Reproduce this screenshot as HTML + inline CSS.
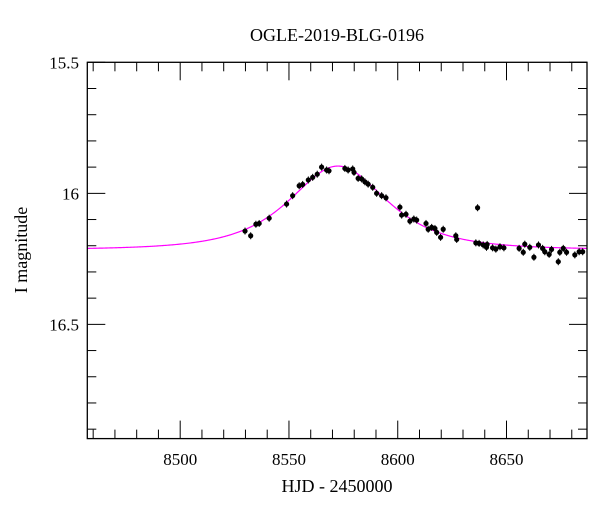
<!DOCTYPE html>
<html><head><meta charset="utf-8"><style>
body{margin:0;background:#fff;}
svg{display:block;font-family:"Liberation Serif",serif;}
</style></head><body>
<svg id="chart" width="600" height="512" viewBox="0 0 600 512">
<text x="337" y="41" font-size="18" text-anchor="middle">OGLE-2019-BLG-0196</text>
<text x="337" y="492" font-size="18" text-anchor="middle">HJD - 2450000</text>
<text x="27" y="250" font-size="18" text-anchor="middle" transform="rotate(-90 27 250)">I magnitude</text>
<g id="ticks"></g>
<g id="model"></g>
<g id="pts"></g>
<rect x="87.3" y="62.3" width="499.7" height="376.3" fill="none" stroke="#000" stroke-width="1.3"/>
</svg>
<script>
const hjd=[8529.8,8532.4,8534.8,8536.3,8540.9,8548.9,8551.7,8554.7,8556.3,8558.9,8560.9,8563.0,8565.0,8567.3,8568.4,8575.7,8577.2,8579.3,8579.9,8581.8,8583.4,8584.9,8586.4,8588.5,8590.3,8592.6,8594.6,8601.0,8601.8,8603.8,8605.6,8607.4,8608.7,8613.0,8614.0,8615.6,8617.1,8617.9,8619.7,8620.9,8626.7,8627.1,8636.7,8635.9,8637.4,8639.3,8641.1,8640.8,8643.6,8645.1,8647.0,8648.8,8655.8,8657.7,8658.4,8660.7,8662.6,8664.7,8666.6,8667.6,8669.6,8670.7,8673.8,8674.5,8676.1,8677.6,8681.4,8683.4,8685.0];
const imag=[16.144,16.162,16.118,16.115,16.095,16.041,16.009,15.971,15.966,15.949,15.939,15.927,15.900,15.911,15.914,15.905,15.911,15.907,15.920,15.943,15.945,15.956,15.965,15.977,16.000,16.009,16.017,16.053,16.083,16.080,16.106,16.098,16.102,16.115,16.137,16.130,16.134,16.149,16.168,16.137,16.162,16.176,16.055,16.189,16.191,16.197,16.195,16.206,16.208,16.213,16.204,16.208,16.210,16.225,16.194,16.206,16.244,16.197,16.210,16.223,16.233,16.214,16.261,16.225,16.210,16.225,16.235,16.223,16.223];
const modelParams=[8572.5,27,1.0,16.215]; // t0, tE, u0, baseline
const xTickLabels=[8500,8550,8600,8650];
const yTickLabels=["15.5","16","16.5"];
const X0=87.3,X1=587,Y0=62.3,Y1=438.6;
const T0=8457.3,T1=8687.0,M0=15.5,M1=16.936;
const sx=t=>X0+(t-T0)/(T1-T0)*(X1-X0);
const sy=m=>Y0+(m-M0)/(M1-M0)*(Y1-Y0);
const NS="http://www.w3.org/2000/svg";
function mk(tag,attrs,parent){const e=document.createElementNS(NS,tag);for(const k in attrs)e.setAttribute(k,attrs[k]);parent.appendChild(e);return e;}
const tk=document.getElementById('ticks');
for(let t=8460;t<=T1;t+=10){
  const major=t%50===0, L=major?18:9, x=sx(t);
  const a=mk('line',{x1:x,x2:x,y1:Y1,y2:Y1-L,stroke:'#000','stroke-width':1},tk);
  
  
  const b=mk('line',{x1:x,x2:x,y1:Y0,y2:Y0+L,stroke:'#000','stroke-width':1},tk);
  
  
}
xTickLabels.forEach(v=>{
  const e=mk('text',{x:sx(v),y:465,'font-size':17,'text-anchor':'middle'},tk);
  e.textContent=v;
  
  
});
for(let i=0;i<=14;i++){
  const m=15.5+i*0.1, major=i%5===0, L=major?18:9, y=sy(m);
  const a=mk('line',{x1:X0,x2:X0+L,y1:y,y2:y,stroke:'#000','stroke-width':1},tk);
  
  
  const b=mk('line',{x1:X1,x2:X1-L,y1:y,y2:y,stroke:'#000','stroke-width':1},tk);
  
  
}
yTickLabels.forEach(v=>{
  const e=mk('text',{x:79,y:sy(parseFloat(v))+6,'font-size':17,'text-anchor':'end'},tk);
  e.textContent=v;
  
  
});
function magAt(t){const[t0,tE,u0,base]=modelParams;const tau=(t-t0)/tE;const u=Math.sqrt(u0*u0+tau*tau);const A=(u*u+2)/(u*Math.sqrt(u*u+4));return base-2.5*Math.log10(A);}
let d='';
for(let t=T0;t<=T1;t+=0.5){d+=(d?'L':'M')+sx(t).toFixed(2)+','+sy(magAt(t)).toFixed(2);}
const path=mk('path',{d:d,fill:'none',stroke:'#ff00ff','stroke-width':1.2},document.getElementById('model'));


const pg=document.getElementById('pts');
hjd.forEach((t,i)=>{
  const x=sx(t),y=sy(imag[i]);
  const eb=mk('line',{x1:x,x2:x,y1:y-3.5,y2:y+3.5,stroke:'#000','stroke-width':1},pg);
  
  
  const c=mk('circle',{cx:x,cy:y,r:2.6,fill:'#000'},pg);
  
  
});
</script>
</body></html>
